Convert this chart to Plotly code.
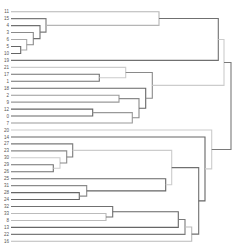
import plotly.graph_objects as go

# Leaf labels, top to bottom
leaf_labels = ['11', '15', '4', '3', '6', '5', '10', '19', '21', '17', '1', '18',
               '2', '9', '12', '0', '7', '20', '14', '27', '23', '30', '29', '26',
               '25', '31', '28', '24', '32', '33', '8', '13', '22', '16']

# Merges: children are leaf labels or cluster ids "cK" (K = merge index)
merge_left = ['5', '6', '3', '4', '15', '11', 'c5', '17', '21', '12', 'c9', '2', 'c11',
              '18', 'c8', 'c6', '29', '30', '23', '27', '28', '31', '25', 'c19', '33',
              '32', 'c25', 'c26', 'c27', 'c23', '14', '20', 'c15']
merge_right = ['10', 'c0', 'c1', 'c2', 'c3', 'c4', '19', '1', 'c7', '0', '7', '9', 'c10',
               'c12', 'c13', 'c14', '26', 'c16', 'c17', 'c18', '24', 'c20', 'c21', 'c22',
               '8', 'c24', '13', '22', '16', 'c28', 'c29', 'c30', 'c31']
merge_height = [9.7, 15.7, 22.3, 29, 35, 148, 207.3, 88.3, 114.7, 81.7, 121.3, 108, 128,
                134.7, 141.3, 213, 42.3, 49, 55.7, 61.7, 68.3, 75.7, 154.7, 160.7, 95,
                101.7, 167.3, 174, 180.7, 187.7, 194, 200.7, 220]

# style: gray shade per link
link_colors = ['#666', '#aaa', '#8a8a8a', '#707070', '#7a7a7a', '#b5b5b5', '#707070',
               '#707070', '#cccccc', '#666', '#999', '#999', '#8a8a8a', '#666', '#8a8a8a',
               '#cccccc', '#707070', '#cccccc', '#8a8a8a', '#7a7a7a', '#666', '#8a8a8a',
               '#666', '#cccccc', '#bbbbbb', '#707070', '#666', '#7a7a7a', '#bbbbbb',
               '#707070', '#666', '#cccccc', '#7a7a7a']

pos = {lab: (0.0, float(i)) for i, lab in enumerate(leaf_labels)}

fig = go.Figure()
for k, (a, b, h) in enumerate(zip(merge_left, merge_right, merge_height)):
    xa, ya = pos[a]
    xb, yb = pos[b]
    fig.add_trace(go.Scatter(
        x=[xa, h, h, xb], y=[ya, ya, yb, yb], mode='lines',
        line=dict(color=link_colors[k], width=1.1),
        hoverinfo='skip', showlegend=False))
    pos['c%d' % k] = (h, (ya + yb) / 2)

n = len(leaf_labels)
fig.update_layout(
    width=251, height=251,
    margin=dict(l=11, r=15, t=8, b=6, pad=0, autoexpand=False),
    paper_bgcolor='white', plot_bgcolor='white',
    xaxis=dict(range=[0, 225], visible=False, fixedrange=True, automargin=False),
    yaxis=dict(range=[n - 1 + 0.53, -0.53], tickmode='array',
               tickvals=list(range(n)), ticktext=leaf_labels,
               showgrid=False, zeroline=False, showline=False, ticks='',
               automargin=False, ticklabelstandoff=1, fixedrange=True,
               tickfont=dict(size=4.5, color='#555', family='Liberation Sans')),
)
fig.write_html('out.html', config={'displayModeBar': False},
               post_script="document.body.style.margin='0';")
